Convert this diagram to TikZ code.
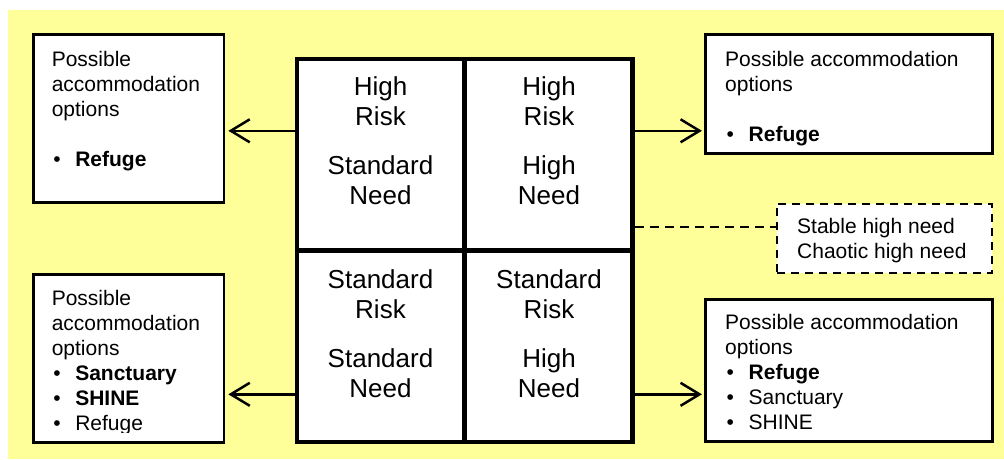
\documentclass[tikz,border=0pt]{standalone}
\usepackage{fontspec}
\setmainfont{Liberation Sans}
\usetikzlibrary{arrows.meta}
\definecolor{padyellow}{HTML}{FFFF99}
% bullet followed by a fixed indent for list items
\newcommand\itm{\hspace*{1.5pt}\makebox[22pt][l]{\textbullet}}
\begin{document}
\begin{tikzpicture}[x=1pt,y=-1pt,
  cell/.style={draw, line width=4.5pt, fill=white, inner sep=0pt},
  gridtext/.style={font=\fontsize{26}{30}\selectfont, align=center, inner sep=0pt, anchor=north},
  optbox/.style={draw, line width=2.7pt, fill=white, inner sep=0pt},
  boxtext/.style={font=\fontsize{21}{25}\selectfont, align=left, inner sep=0pt, anchor=north west},
  dashbox/.style={draw, line width=2pt, dash pattern=on 8pt off 6pt, fill=white, inner sep=0pt},
  arr/.style={line width=2.5pt, -{Straight Barb[length=19pt,width=23pt]}},
  link/.style={line width=1.6pt, dash pattern=on 9pt off 6pt}
]
\useasboundingbox (0,0) rectangle (1004,459);
\fill[padyellow] (8,10) rectangle (1004,459);

% risk / need grid
\node[cell, minimum width=167.5pt, minimum height=191.5pt] (hrsn) at (380.75,154.75) {};
\node[cell, minimum width=168pt,   minimum height=191.5pt] (hrhn) at (548.5,154.75) {};
\node[cell, minimum width=167.5pt, minimum height=191.5pt] (srsn) at (380.75,346.25) {};
\node[cell, minimum width=168pt,   minimum height=191.5pt] (srhn) at (548.5,346.25) {};

\node[gridtext] (thrsn) at (380.5,76.4)  {High\\Risk\\[19pt]Standard\\Need};
\node[gridtext] (thrhn) at (549,76.4)    {High\\Risk\\[19pt]High\\Need};
\node[gridtext] (tsrsn) at (380.5,269.5) {Standard\\Risk\\[19pt]Standard\\Need};
\node[gridtext] (tsrhn) at (549,269.5)   {Standard\\Risk\\[19pt]High\\Need};

% accommodation option boxes
\node[optbox, minimum width=190.3pt, minimum height=167.6pt] (tl) at (128.85,118.5) {};
\node[optbox, minimum width=287.2pt, minimum height=118.6pt] (tr) at (848.9,94) {};
\node[optbox, minimum width=190.3pt, minimum height=167.5pt] (bl) at (128.85,358.45) {};
\node[optbox, minimum width=287.2pt, minimum height=142pt]   (br) at (848.9,370.7) {};

\node[boxtext] (ttl) at (51.6,51) {Possible\\accommodation\\options\\[25pt]\itm\textbf{Refuge}};
\node[boxtext] (ttr) at (725,51) {Possible accommodation\\options\\[25pt]\itm\textbf{Refuge}};
\begin{scope}
  \coordinate (clipy) at (0,432);
  \clip (bl.north west) rectangle (bl.east |- clipy);
  \node[boxtext] (tbl) at (51.6,290) {Possible\\accommodation\\options\\\itm\textbf{Sanctuary}\\\itm\textbf{SHINE}\\\itm Refuge};
\end{scope}
\node[boxtext] (tbr) at (725,314.5) {Possible accommodation\\options\\\itm\textbf{Refuge}\\\itm Sanctuary\\\itm SHINE};

% high need sub-types
\node[dashbox, minimum width=215pt, minimum height=69.3pt] (dsh) at (884.5,238.35) {};
\node[boxtext] (tdsh) at (797,218.5) {Stable high need\\Chaotic high need};

% connectors
\coordinate (ytop) at (0,130.8);
\coordinate (ybot) at (0,394.3);
\coordinate (ydash) at (0,226.8);
\draw[arr, shorten >=3pt] (hrsn.west |- ytop) -- (tl.east |- ytop);
\draw[arr, shorten >=2pt] (hrhn.east |- ytop) -- (tr.west |- ytop);
\draw[arr, shorten >=3pt] (srsn.west |- ybot) -- (bl.east |- ybot);
\draw[arr, shorten >=2pt] (srhn.east |- ybot) -- (br.west |- ybot);
\draw[link] (hrhn.east |- ydash) -- (dsh.west |- ydash);
\end{tikzpicture}
\end{document}
